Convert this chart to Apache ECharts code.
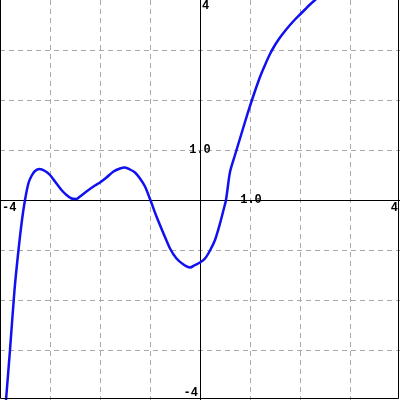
<!DOCTYPE html>
<html>
<head>
<meta charset="utf-8">
<script src="https://cdn.jsdelivr.net/npm/echarts@6/dist/echarts.min.js"></script>
<style>html,body{margin:0;padding:0;background:#fff}#c{width:400px;height:400px}</style>
</head>
<body>
<div id="c"></div>
<script>
var xs = [-3.90,-3.88,-3.80,-3.71,-3.63,-3.56,-3.50,-3.43,-3.37,-3.30,-3.21,-3.10,-3.00,-2.90,-2.77,-2.67,-2.57,-2.47,-2.40,-2.27,-2.13,-2.00,-1.87,-1.73,-1.60,-1.50,-1.40,-1.30,-1.20,-1.10,-1.00,-0.87,-0.73,-0.60,-0.47,-0.33,-0.20,-0.10,0.00,0.10,0.20,0.30,0.40,0.47,0.52,0.60,0.70,0.80,0.90,1.00,1.10,1.20,1.30,1.40,1.50,1.60,1.70,1.80,1.90,2.00,2.10,2.20,2.30,2.45];
var ys = [-4.25,-4.00,-3.00,-1.80,-1.00,-0.40,0.00,0.34,0.48,0.58,0.62,0.58,0.50,0.37,0.20,0.10,0.03,0.02,0.07,0.17,0.27,0.35,0.45,0.57,0.63,0.65,0.61,0.55,0.43,0.27,0.02,-0.33,-0.67,-0.97,-1.17,-1.29,-1.35,-1.30,-1.25,-1.17,-1.01,-0.80,-0.47,-0.20,0.00,0.56,0.90,1.23,1.56,1.88,2.18,2.46,2.70,2.92,3.10,3.25,3.38,3.50,3.61,3.71,3.81,3.91,4.00,4.13];
var xTickLabels = [{v:-4,t:'-4'},{v:1,t:'1.0'},{v:4,t:'4'}];
var yTickLabels = [{v:4,t:'4'},{v:1,t:'1.0'},{v:-4,t:'-4'}];

var chart = echarts.init(document.getElementById('c'), null, {renderer:'canvas'});
var pts = xs.map(function(x,i){return [x, ys[i]];});
var split = {show:true, showMinLine:false, showMaxLine:false, lineStyle:{color:'#aaaaaa', type:[5,4], width:1}};
chart.setOption({
  animation:false,
  backgroundColor:'#ffffff',
  grid:{left:0,right:0,top:0,bottom:0,containLabel:false},
  xAxis:{type:'value',min:-4,max:4,interval:1,axisLine:{show:true,onZero:true,lineStyle:{color:'#000',width:1}},axisTick:{show:false},axisLabel:{show:false},splitLine:split},
  yAxis:{type:'value',min:-4,max:4,interval:1,axisLine:{show:true,onZero:true,lineStyle:{color:'#000',width:1}},axisTick:{show:false},axisLabel:{show:false},splitLine:split},
  series:[{type:'line',data:pts,showSymbol:false,smooth:0.25,clip:true,lineStyle:{color:'#1010f0',width:2.5}}]
});

var font = 'bold 12px "Liberation Mono", "DejaVu Sans Mono", monospace';
var g = [];
xTickLabels.forEach(function(l){
  var p = chart.convertToPixel({gridIndex:0},[l.v,0]);
  var align = l.v < 0 ? 'left' : (l.v >= 4 ? 'right' : 'center');
  var dx = l.v < 0 ? 2 : (l.v >= 4 ? -2 : 1);
  var vy = l.t === '1.0' ? 'middle' : 'top';
  var dy = l.t === '1.0' ? 0 : 2;
  g.push({type:'text',x:p[0]+dx,y:p[1]+dy,style:{text:l.t,font:font,fill:'#000',align:align,verticalAlign:vy},z:10});
});
yTickLabels.forEach(function(l){
  var p = chart.convertToPixel({gridIndex:0},[0,l.v]);
  var align, vy, dx, dy;
  if (l.v >= 4) {align='left';vy='top';dx=2;dy=0;}
  else if (l.v <= -4) {align='right';vy='bottom';dx=-2;dy=-1;}
  else {align='center';vy='middle';dx=0;dy=0;}
  g.push({type:'text',x:p[0]+dx,y:p[1]+dy,style:{text:l.t,font:font,fill:'#000',align:align,verticalAlign:vy},z:10});
});
// frame
g.push({type:'polyline',shape:{points:[[0.5,0],[0.5,398.5],[398.5,398.5],[398.5,0]]},style:{stroke:'#000',lineWidth:1,fill:null},z:10});
chart.setOption({graphic:g});
</script>
</body>
</html>
